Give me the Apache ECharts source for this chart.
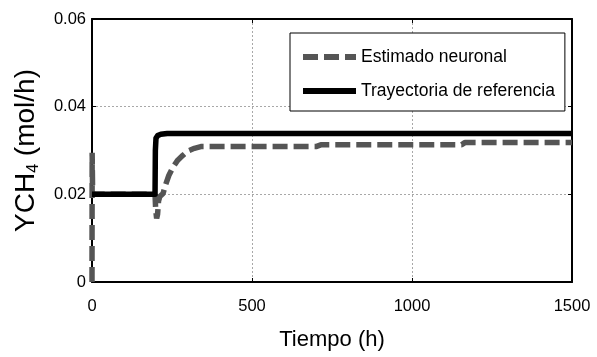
<!DOCTYPE html>
<html>
<head>
<meta charset="utf-8">
<script src="https://cdn.jsdelivr.net/npm/echarts@6/dist/echarts.min.js"></script>
<style>
html, body { margin: 0; padding: 0; background: #fff; }
#chart { width: 597px; height: 357px; }
</style>
</head>
<body>
<div id="chart"></div>
<script>
// ejes
const xTicks = [0, 500, 1000, 1500];
const yTicks = [0, 0.02, 0.04, 0.06];
const seriesNames = ['Estimado neuronal', 'Trayectoria de referencia'];

// estimado neuronal
const estTime = [0, 0.5, 2, 197, 199, 202, 205, 208, 212, 222, 230, 240, 253, 268, 284, 300, 320, 340, 700, 715, 1155, 1165, 1500];
const estValue = [0, 0.0295, 0.02, 0.02, 0.0165, 0.0145, 0.0155, 0.0185, 0.0195, 0.0202, 0.0222, 0.0243, 0.0262, 0.0278, 0.0289, 0.0299, 0.0305, 0.0309, 0.0309, 0.0313, 0.0313, 0.0318, 0.0318];

// trayectoria de referencia
const refTime = [0, 197, 198, 200, 205, 215, 235, 1500];
const refValue = [0.02, 0.02, 0.030, 0.0328, 0.0334, 0.0337, 0.0339, 0.0339];

const font = "'Liberation Sans', Arial, sans-serif";

const chart = echarts.init(document.getElementById('chart'));

const pairs = (t, v) => t.map((x, i) => [x, v[i]]);

const xMin = xTicks[0], xMax = xTicks[xTicks.length - 1], xStep = xTicks[1] - xTicks[0];
const yMin = yTicks[0], yMax = yTicks[yTicks.length - 1], yStep = yTicks[1] - yTicks[0];

const gridLine = { show: true, lineStyle: { color: '#a8a8a8', width: 1, type: [2, 2] } };
const boxLine = { show: true, onZero: false, lineStyle: { color: '#000', width: 2 } };
const tick = { show: true, inside: true, length: 4, lineStyle: { color: '#000', width: 1 } };

const option = {
    backgroundColor: '#fff',
    animation: false,
    grid: { left: 92, right: 25, top: 19, bottom: 70 },
    legend: {
        data: seriesNames,
        orient: 'vertical',
        left: 290,
        top: 33,
        padding: [13, 10, 9, 10],
        itemGap: 12,
        itemWidth: 53,
        itemHeight: 6,
        borderColor: '#000',
        borderWidth: 1,
        backgroundColor: '#fff',
        lineStyle: { width: 6 },
        textStyle: { fontFamily: font, fontSize: 17.5, color: '#000', lineHeight: 22 }
    },
    xAxis: [
        {
            type: 'value',
            min: xMin, max: xMax, interval: xStep,
            name: 'Tiempo (h)',
            nameLocation: 'middle',
            nameGap: 46,
            nameTextStyle: { fontFamily: font, fontSize: 22, color: '#000', lineHeight: 24 },
            axisLine: boxLine,
            axisTick: tick,
            axisLabel: {
                margin: 15, fontFamily: font, fontSize: 16.5, color: '#000', lineHeight: 18,
                formatter: v => String(v)
            },
            splitLine: gridLine
        },
        {
            type: 'value', position: 'top',
            min: xMin, max: xMax, interval: xStep,
            axisLine: boxLine, axisTick: tick,
            axisLabel: { show: false }, splitLine: { show: false }
        }
    ],
    yAxis: [
        {
            type: 'value',
            min: yMin, max: yMax, interval: yStep,
            name: '{a|YCH}{s|4}{a| (mol/h)}',
            nameLocation: 'middle',
            nameGap: 50,
            nameTextStyle: {
                rich: {
                    a: { fontFamily: font, fontSize: 28, color: '#000', lineHeight: 32 },
                    s: { fontFamily: font, fontSize: 16, color: '#000', lineHeight: 12, verticalAlign: 'bottom' }
                }
            },
            axisLine: boxLine,
            axisTick: tick,
            axisLabel: { margin: 6, fontFamily: font, fontSize: 16.5, color: '#000' },
            splitLine: gridLine
        },
        {
            type: 'value', position: 'right',
            min: yMin, max: yMax, interval: yStep,
            axisLine: boxLine, axisTick: tick,
            axisLabel: { show: false }, splitLine: { show: false }
        }
    ],
    series: [
        {
            name: seriesNames[0],
            type: 'line',
            data: pairs(estTime, estValue),
            showSymbol: false,
            symbol: 'none',
            itemStyle: { color: '#555' },
            lineStyle: { color: '#555', width: 5.5, type: [15, 6] }
        },
        {
            name: seriesNames[1],
            type: 'line',
            data: pairs(refTime, refValue),
            showSymbol: false,
            symbol: 'none',
            itemStyle: { color: '#000' },
            lineStyle: { color: '#000', width: 5.5, join: 'round' }
        }
    ]
};

chart.setOption(option);
</script>
</body>
</html>
